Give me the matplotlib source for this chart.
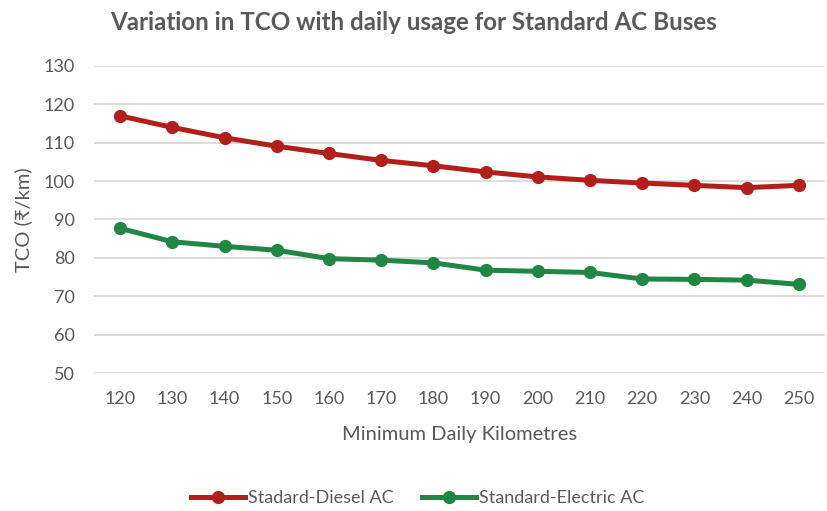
import matplotlib
matplotlib.use("Agg")
import matplotlib.pyplot as plt

plt.rcParams['font.family'] = ['Lato', 'DejaVu Sans']

# data
daily_km = [120, 130, 140, 150, 160, 170, 180, 190, 200, 210, 220, 230, 240, 250]
diesel_ac = [117.0, 114.0, 111.3, 109.1, 107.2, 105.4, 104.0, 102.4, 101.1, 100.2, 99.5, 98.9, 98.3, 98.9]
electric_ac = [87.7, 84.2, 83.0, 82.0, 79.8, 79.4, 78.7, 76.8, 76.5, 76.2, 74.5, 74.4, 74.2, 73.1]
yticks = [50, 60, 70, 80, 90, 100, 110, 120, 130]

RED = "#B21F1A"
GREEN = "#1F8643"
TEXT = "#595959"
GRID = "#D9D9D9"

fig = plt.figure(figsize=(8.27, 5.11), dpi=100)
ax = fig.add_axes([94 / 827, 1 - 373 / 511, 731 / 827, 307 / 511])

x = list(range(len(daily_km)))
ax.plot(x, diesel_ac, color=RED, lw=3.6, marker="o", ms=8.5, label="Stadard-Diesel AC")
ax.plot(x, electric_ac, color=GREEN, lw=3.6, marker="o", ms=8.5, label="Standard-Electric AC")

ax.set_xlim(-0.5, len(daily_km) - 0.5)
ax.set_ylim(50, 130)
ax.set_xticks(x)
ax.set_xticklabels([str(v) for v in daily_km])
ax.set_yticks(yticks)
ax.grid(axis="y", color=GRID, lw=1.3)
ax.set_axisbelow(True)
for s in ax.spines.values():
    s.set_visible(False)
ax.tick_params(length=0, labelsize=13, colors=TEXT)
ax.tick_params(axis="y", pad=14)
ax.tick_params(axis="x", pad=13)

ax.set_xlabel("Minimum Daily Kilometres", fontsize=14.5, color=TEXT, va="center")
ax.xaxis.set_label_coords(0.5, -61 / 307)
ax.set_ylabel("TCO (₹/km)", fontsize=14.5, color=TEXT, va="center")
ax.yaxis.set_label_coords(-71 / 731, 0.5)

fig.text(0.5, 1 - 22 / 511, "Variation in TCO with daily usage for Standard AC Buses",
         ha="center", va="center", fontsize=17.4, fontweight="bold", color=TEXT)

fig.legend(loc="center", bbox_to_anchor=(0.505, 1 - 498 / 511), ncol=2, frameon=False,
           fontsize=13, labelcolor=TEXT, handlelength=3, columnspacing=1.6, handletextpad=0.15)

fig.savefig("out.png", dpi=100, facecolor="white")
